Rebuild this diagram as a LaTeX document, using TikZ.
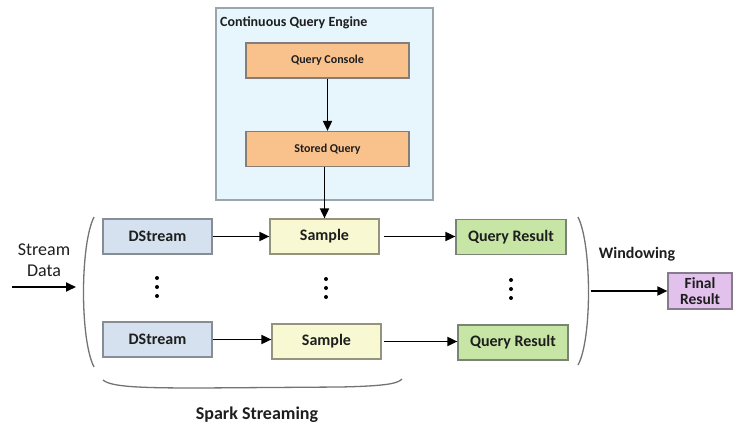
\documentclass[tikz,border=0pt]{standalone}
\usepackage{fontspec}
\setmainfont{Carlito}
\usetikzlibrary{arrows.meta}
\definecolor{txt}{HTML}{1E1E1E}
\definecolor{engfill}{HTML}{E6F6FC}
\definecolor{engdraw}{HTML}{9AA5AC}
\definecolor{orfill}{HTML}{F9C28C}
\definecolor{ordraw}{HTML}{857E78}
\definecolor{dsfill}{HTML}{D5E1EE}
\definecolor{dsdraw}{HTML}{868D94}
\definecolor{smfill}{HTML}{F8F9D2}
\definecolor{smdraw}{HTML}{94947E}
\definecolor{qrfill}{HTML}{C7E6A6}
\definecolor{qrdraw}{HTML}{7A8474}
\definecolor{fnfill}{HTML}{E2C2EC}
\definecolor{fndraw}{HTML}{847C8A}
\definecolor{paren}{HTML}{737373}
\tikzset{
  boxbase/.style={draw, line width=1.2pt, inner sep=0pt, align=center, text=txt, font=\fontsize{16}{18}\selectfont\bfseries},
  engbox/.style={draw=engdraw, fill=engfill, line width=1.2pt, inner sep=0pt, minimum width=217pt, minimum height=192pt},
  orbox/.style={boxbase, draw=ordraw, fill=orfill, minimum width=163pt, minimum height=35pt, font=\fontsize{12}{14}\selectfont\bfseries},
  dsbox/.style={boxbase, draw=dsdraw, fill=dsfill, minimum width=109pt, minimum height=35pt},
  smbox/.style={boxbase, draw=smdraw, fill=smfill, minimum width=109pt, minimum height=35pt},
  qrbox/.style={boxbase, draw=qrdraw, fill=qrfill, minimum width=110pt, minimum height=35pt},
  fnbox/.style={boxbase, draw=fndraw, fill=fnfill, minimum width=64pt, minimum height=36pt, font=\fontsize{15.5}{16}\selectfont\bfseries},
  conn/.style={draw=black, line width=1.8pt, -{Triangle[length=10pt,width=9pt]}},
  dotmark/.style={circle, fill=black, inner sep=0pt, minimum size=4pt},
  parenline/.style={draw=paren, line width=1.3pt},
  lbl/.style={text=txt, inner sep=0pt}
}
\begin{document}
\begin{tikzpicture}[x=1pt,y=-1pt]
\useasboundingbox (0,0) rectangle (738,425);
% engine
\node[engbox] (engine) at (324.5,104) {};
\node[lbl, anchor=west, font=\fontsize{14}{16}\selectfont\bfseries] (engtitle) at (220,23) {Continuous Query Engine};
\node[orbox] (console) at (327.5,60.5) {Query Console};
\node[orbox] (stored) at (327.5,149) {Stored Query};
% rows
\node[dsbox] (ds1) at (157.5,236.5) {DStream};
\node[dsbox] (ds2) at (157.5,339.5) {DStream};
\node[smbox] (s1) at (324.5,236.5) {Sample};
\node[smbox] (s2) at (326.5,341.5) {Sample};
\node[qrbox] (q1) at (511,237) {Query Result};
\node[qrbox] (q2) at (513,342.5) {Query Result};
\node[fnbox] (final) at (700,291) {Final\\Result};
% dots
\foreach \yy [count=\i] in {278,287,296}{
  \node[dotmark] (dl\i) at (157,\yy) {};
  \node[dotmark] (dm\i) at (326,\yy+1) {};
  \node[dotmark] (dr\i) at (511,\yy+2) {};
}
% connectors
\draw[conn] (console) -- (stored);
\draw[conn] (stored.south -| s1.north) -- (s1.north);
\draw[conn] (ds1) -- (s1);
\draw[conn] (ds2.east) -- (s2.west |- ds2.east);
\draw[conn, shorten <=4pt] (s1) -- (q1.west |- s1.east);
\draw[conn, shorten <=2pt] (s2.east) -- (q2.west |- s2.east);
% stream data
\node[lbl, align=center, font=\fontsize{18}{21}\selectfont] (sdata) at (44,260.5) {Stream\\Data};
\coordinate (sdstart) at (12,287);
\coordinate (sdend) at (76,287);
\draw[conn] (sdstart) -- (sdend);
% windowing
\node[lbl, font=\fontsize{16}{18}\selectfont\bfseries] (wlabel) at (637,254) {Windowing};
\coordinate (wstart) at (591,291);
\draw[conn] (wstart) -- (final.west);
% parentheses
\draw[parenline] (94,217) .. controls (80,245) and (80,340) .. (94,367);
\draw[parenline] (578,217) .. controls (592,245) and (592,340) .. (578,365);
\draw[parenline] (103,380) .. controls (111,387) and (140,388) .. (200,388) -- (340,387) .. controls (390,386) and (398,383) .. (402,379);
% spark streaming
\node[lbl, font=\fontsize{18}{20}\selectfont\bfseries] (spark) at (257,415) {Spark Streaming};
\end{tikzpicture}
\end{document}
